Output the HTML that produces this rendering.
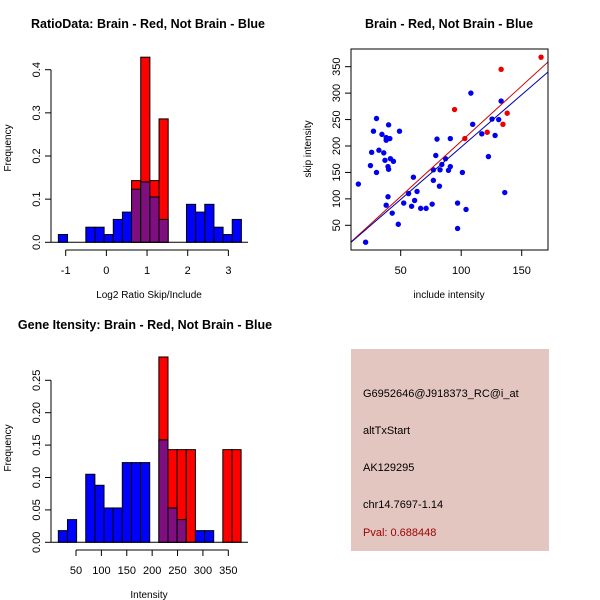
<!DOCTYPE html>
<html><head><meta charset="utf-8"><style>
html,body{margin:0;padding:0;background:#fff;}
svg{display:block;font-family:"Liberation Sans",Arial,sans-serif;}
</style></head><body>
<svg id="chart" width="600" height="600" viewBox="0 0 600 600" xmlns="http://www.w3.org/2000/svg">
<rect x="0" y="0" width="600" height="600" fill="#fff"/>
</svg>
<script>
// ---- Panel 1: ratio histogram data ----
const ratioBinStart = -1.18;
const ratioBinWidth = 0.225;
const ratioBlue = [0.018,0,0,0.035,0.035,0.018,0.053,0.07,0.123,0.14,0.105,0.053,0,0,0.088,0.07,0.088,0.035,0.018,0.053];
const ratioRed  = [0,0,0,0,0,0,0,0,0.143,0.429,0.143,0.286,0,0,0,0,0,0,0,0];
const ratioXTicks = [-1,0,1,2,3];
const ratioYTicks = [0.0,0.1,0.2,0.3,0.4];
const ratioYLabels = ["0.0","0.1","0.2","0.3","0.4"];
// ---- Panel 2: scatter data ----
const blueX = [15,21,30,27.5,26,25,30,32,34.5,36,37,38,38,40,41,39.5,40,39.5,38,41.5,44,49,43,48,52.5,56.5,59,60.5,61.5,63.5,66.5,71,76,77,77,79,80,82,82.5,84,87,89.5,91,91,97,97,101,104,108,109.5,117,122.5,125.5,128,131,133,136];
const blueY = [128,18,252,228,188,163,150,192,222,187,173,216,211,240,214,161,156,104,88,176,171,228,73,52,92,110,86,141,97,114,82,82,90,135,155,182,213,124,155,165,176,154,161,214,92,44,150,80,300,241,223,180,251,220,250,285,112];
const redX = [94.5,103,121.5,133,134.5,138,166];
const redY = [269,214,226,345,241,262,368];
const redSlope = 2.09;
const blueSlope = 1.98;
const scatXTicks = [50,100,150];
const scatYTicks = [50,100,150,200,250,300,350];
// ---- Panel 3: intensity histogram data ----
const intBinStart = 15.2;
const intBinWidth = 18;
const intBlue = [0.018,0.035,0,0.105,0.088,0.053,0.053,0.123,0.123,0.123,0,0.158,0.053,0.035,0,0.018,0.018,0,0,0];
const intRed  = [0,0,0,0,0,0,0,0,0,0,0,0.286,0.143,0.143,0.143,0,0,0,0.143,0.143];
const intXTicks = [50,100,150,200,250,300,350];
const intYTicks = [0,0.05,0.10,0.15,0.20,0.25];
const intYLabels = ["0.00","0.05","0.10","0.15","0.20","0.25"];
// ---- info panel ----
const infoLines = ["G6952646@J918373_RC@i_at","altTxStart","AK129295","chr14.7697-1.14"];
const pvalText = "Pval: 0.688448";

const svg = document.getElementById('chart');
const NS = 'http://www.w3.org/2000/svg';
function mk(tag, attrs, parent){
  const e = document.createElementNS(NS, tag);
  for (const k in attrs) e.setAttribute(k, attrs[k]);
  (parent||svg).appendChild(e);
  return e;
}
function txt(s, x, y, opts, parent){
  const e = mk('text', Object.assign({x:x, y:y, 'font-size':11, fill:'#000', 'text-anchor':'middle'}, opts||{}), parent);
  e.textContent = s;
  return e;
}

function histogram(g, o){
  const sx = v => o.x0px + (v - o.x0v) * o.xs;
  const sy = v => o.y0px - v * o.ys;
  for (let i = 0; i < o.blue.length; i++) {
    const l = o.start + i * o.width, r = l + o.width;
    const b = o.blue[i], rd = o.red[i];
    if (rd > 0) {
      const e = mk('rect', {x:sx(l), y:sy(rd), width:sx(r)-sx(l), height:sy(0)-sy(rd), fill:'#ff0000', stroke:'#000', 'stroke-width':1}, g);
      
      
    }
    if (b > 0) {
      const col = rd > 0 ? '#7f0f7f' : '#0000ff';
      const e = mk('rect', {x:sx(l), y:sy(b), width:sx(r)-sx(l), height:sy(0)-sy(b), fill:col, stroke:'#000', 'stroke-width':1}, g);
      
      
    }
  }
  mk('line', {x1:o.left, x2:o.right, y1:sy(0), y2:sy(0), stroke:'#000'}, g);
  const ya = mk('g', {}, g);
  
  
  const yt = o.yTicks;
  mk('line', {x1:o.yAxisX, x2:o.yAxisX, y1:sy(yt[0]), y2:sy(yt[yt.length-1]), stroke:'#000'}, ya);
  yt.forEach((v,i) => {
    mk('line', {x1:o.yAxisX-6, x2:o.yAxisX, y1:sy(v), y2:sy(v), stroke:'#000'}, ya);
    txt(o.yLabels[i], 0, 0, {transform:`translate(${o.yAxisX-14},${sy(v)}) rotate(-90)`, 'dominant-baseline':'middle'}, ya);
  });
  const xa = mk('g', {}, g);
  
  
  const xt = o.xTicks;
  mk('line', {x1:sx(xt[0]), x2:sx(xt[xt.length-1]), y1:o.xAxisY, y2:o.xAxisY, stroke:'#000'}, xa);
  xt.forEach(v => {
    mk('line', {x1:sx(v), x2:sx(v), y1:o.xAxisY, y2:o.xAxisY+6, stroke:'#000'}, xa);
    txt(String(v), sx(v), o.xAxisY+24, {}, xa);
  });
}

// Panel 1
const g1 = mk('g', {});


const t1 = txt('RatioData: Brain - Red, Not Brain - Blue', 148, 28, {'font-weight':'bold','font-size':12.5}, g1);


histogram(g1, {x0px:65.7, x0v:-1, xs:40.67, y0px:242.3, ys:431.5, start:ratioBinStart, width:ratioBinWidth,
  blue:ratioBlue, red:ratioRed, left:51, right:248, yAxisX:51, xAxisY:250,
  yTicks:ratioYTicks, yLabels:ratioYLabels, xTicks:ratioXTicks});
const xl1 = txt('Log2 Ratio Skip/Include', 149, 298, {'font-size':10}, g1);


const yl1 = txt('Frequency', 0, 0, {'font-size':10, transform:'translate(11,148) rotate(-90)'}, g1);



// Panel 3
const g3 = mk('g', {});


const t3 = txt('Gene Itensity: Brain - Red, Not Brain - Blue', 145, 329, {'font-weight':'bold','font-size':12.5}, g3);


histogram(g3, {x0px:76, x0v:50, xs:0.5077, y0px:542.3, ys:648, start:intBinStart, width:intBinWidth,
  blue:intBlue, red:intRed, left:51, right:248, yAxisX:51, xAxisY:550,
  yTicks:intYTicks, yLabels:intYLabels, xTicks:intXTicks});
const xl3 = txt('Intensity', 149, 598, {'font-size':10}, g3);


const yl3 = txt('Frequency', 0, 0, {'font-size':10, transform:'translate(11,448) rotate(-90)'}, g3);



// Panel 2 scatter
const g2 = mk('g', {});


const L = 351, R = 548, T = 49, B = 250;
const px = v => 400.7 + (v - 50) * 1.21;
const py = v => 225.3 - (v - 50) * 0.5287;
const t2 = txt('Brain - Red, Not Brain - Blue', 449, 28, {'font-weight':'bold','font-size':12.5}, g2);


const clip = mk('clipPath', {id:'sc'}, g2);
mk('rect', {x:L, y:T, width:R-L, height:B-T}, clip);
const pts = mk('g', {'clip-path':'url(#sc)'}, g2);
for (let i = 0; i < blueX.length; i++) {
  const c = mk('circle', {cx:px(blueX[i]), cy:py(blueY[i]), r:2.7, fill:'#0000ee'}, pts);
  
  
}
for (let i = 0; i < redX.length; i++) {
  const c = mk('circle', {cx:px(redX[i]), cy:py(redY[i]), r:2.7, fill:'#ee0000'}, pts);
  
  
}
const xMinV = (L - 400.7) / 1.21 + 50, xMaxV = (R - 400.7) / 1.21 + 50;
const rl = mk('line', {x1:px(xMinV), y1:py(xMinV*redSlope), x2:px(xMaxV), y2:py(xMaxV*redSlope), stroke:'#cc0000', 'stroke-width':1}, pts);


const bl = mk('line', {x1:px(xMinV), y1:py(xMinV*blueSlope), x2:px(xMaxV), y2:py(xMaxV*blueSlope), stroke:'#0000aa', 'stroke-width':1}, pts);


mk('rect', {x:L, y:T, width:R-L, height:B-T, fill:'none', stroke:'#000'}, g2);
scatXTicks.forEach(v => {
  mk('line', {x1:px(v), x2:px(v), y1:B, y2:B+6, stroke:'#000'}, g2);
  txt(String(v), px(v), B+24, {}, g2);
});
scatYTicks.forEach(v => {
  mk('line', {x1:L-6, x2:L, y1:py(v), y2:py(v), stroke:'#000'}, g2);
  txt(String(v), 0, 0, {transform:`translate(${L-14},${py(v)}) rotate(-90)`, 'dominant-baseline':'middle'}, g2);
});
const xl2 = txt('include intensity', 449, 298, {'font-size':10}, g2);


const yl2 = txt('skip intensity', 0, 0, {'font-size':10, transform:'translate(311,149) rotate(-90)'}, g2);



// Info panel
const g4 = mk('g', {});


mk('rect', {x:351, y:349, width:198, height:202, fill:'#e3c6c0'}, g4);
const ys = [397, 434, 471, 508];
infoLines.forEach((s, i) => {
  const e = txt(s, 363, ys[i], {'text-anchor':'start','font-size':11}, g4);
  
  
});
const pv = txt(pvalText, 363, 536, {'text-anchor':'start','font-size':11, fill:'#9b0000'}, g4);


</script>
</body></html>
